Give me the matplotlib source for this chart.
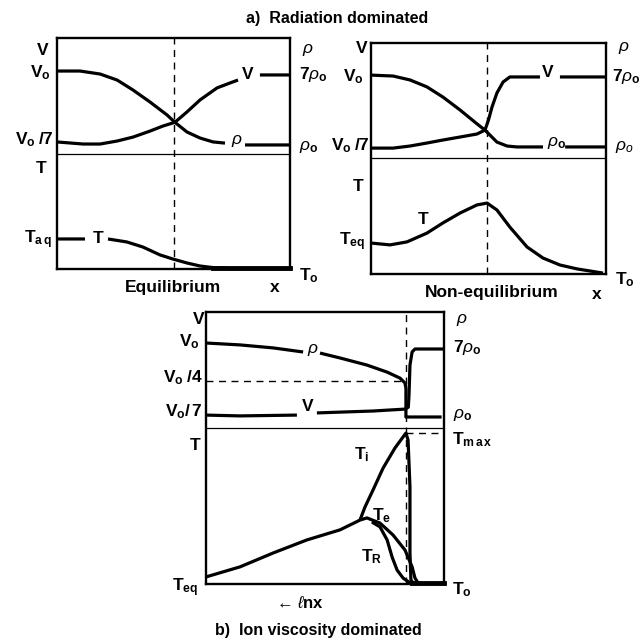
import numpy as np
import matplotlib
matplotlib.use("Agg")
import matplotlib.pyplot as plt

plt.rcParams['font.family'] = ['Liberation Sans', 'DejaVu Sans']
plt.rcParams['font.weight'] = 'bold'
plt.rcParams['mathtext.fontset'] = 'custom'
plt.rcParams['mathtext.rm'] = 'Liberation Sans:bold'
plt.rcParams['mathtext.bf'] = 'Liberation Sans:bold'
plt.rcParams['mathtext.it'] = 'Liberation Sans:style=italic:weight=normal'

nan = np.nan

# ---- Panel a-left: equilibrium (x and y in percent of the panel) ----
eq_fall_x = [0, 9.9, 18.5, 25.8, 32.6, 39.9, 47.2, 50.6, 55.8, 61.4, 67.0, 72.1, nan, 80.7, 100]
eq_fall_y = [85.7, 85.7, 84.4, 81.8, 77.5, 72.3, 66.7, 63.5, 59.3, 56.7, 55.0, 54.5, nan, 53.7, 53.7]
eq_rise_x = [0, 11.2, 18.5, 25.8, 32.6, 39.9, 45.5, 50.6, 55.8, 61.4, 68.7, 75.5, 77.7, nan, 87.1, 100]
eq_rise_y = [55.0, 54.1, 54.1, 55.4, 57.1, 59.7, 61.9, 63.5, 68.0, 73.2, 78.4, 81.0, 81.8, nan, 84.0, 84.0]
eq_t_x = [0, 12.0, nan, 21.9, 30.0, 36.9, 44.2, 49.8, 55.8, 61.4, 67.0, 73.0]
eq_t_y = [13.0, 13.0, nan, 13.0, 11.7, 9.5, 6.1, 4.3, 2.6, 1.3, 0.6, 0.4]
eq_t_floor_x = [67.0, 100]
eq_t_floor_y = [0.4, 0.4]
eq_shock_x = 50.2
eq_split_y = 49.8

# ---- Panel a-right: non-equilibrium ----
ne_fall_x = [0, 9.4, 16.6, 23.8, 30.6, 37.9, 45.1, 48.5, 53.6, 57.9, 62.1, 73.2, nan, 82.6, 100]
ne_fall_y = [86.1, 85.7, 84.0, 81.0, 76.6, 71.0, 65.0, 62.3, 57.1, 55.4, 55.0, 55.0, nan, 55.0, 55.0]
ne_rise_x = [0, 9.4, 16.6, 23.8, 30.6, 37.9, 45.1, 48.5, 50.0, 51.5, 53.6, 56.2, 59.1, 71.9, nan, 80.4, 100]
ne_rise_y = [54.5, 54.5, 55.4, 56.7, 58.0, 59.3, 60.6, 62.3, 66.7, 72.3, 78.4, 83.1, 85.3, 85.3, nan, 85.3, 85.3]
ne_t_x = [0, 8.1, 15.3, 23.8, 30.6, 37.9, 45.1, 49.4, 53.6, 59.1, 66.4, 73.2, 80.4, 87.7, 98.7]
ne_t_y = [13.4, 12.6, 13.9, 17.7, 22.1, 26.4, 29.9, 30.7, 27.7, 20.3, 11.7, 6.9, 3.9, 2.2, 0.4]
ne_shock_x = 49.4
ne_split_y = 50.2

# ---- Panel b: ion viscosity dominated ----
iv_rho_x = [0, 14.3, 28.2, 40.8, nan, 47.9, 56.3, 67.6, 76.1, 81.5, 83.6, 84.0, 84.0, 99.0]
iv_rho_y = [88.6, 87.9, 86.8, 85.3, nan, 84.9, 83.1, 80.5, 77.9, 75.7, 73.9, 72.0, 61.4, 61.4]
iv_v_x = [0, 14.3, 38.2, nan, 46.6, 70.2, 83.6, 85.0, 85.3, 85.7, 86.6, 87.8, 100]
iv_v_y = [62.1, 61.8, 62.1, nan, 62.9, 63.6, 64.3, 65.0, 69.5, 80.5, 85.3, 86.4, 86.4]
iv_base_x = [0, 14.3, 28.2, 42.4, 56.3, 64.7]
iv_base_y = [2.6, 6.3, 11.4, 16.2, 19.9, 23.5]
iv_ti_x = [64.7, 66.8, 70.2, 74.4, 79.4, 84.0, 84.9, 85.7, 85.7, 86.1, 87.0]
iv_ti_y = [23.5, 28.3, 34.6, 42.6, 50.0, 55.5, 52.9, 35.7, 11.4, 1.5, 0.4]
iv_te_x = [64.7, 67.6, 73.1, 78.6, 83.6, 86.6, 87.8, 89.1]
iv_te_y = [23.5, 24.3, 22.4, 18.0, 12.5, 6.3, 2.2, 0.4]
iv_tr_x = [69.7, 73.1, 76.1, 78.2, 80.3, 82.8, 85.7]
iv_tr_y = [22.8, 21.0, 16.2, 9.9, 5.1, 2.2, 0.4]
iv_floor_x = [86.6, 100]
iv_floor_y = [0.4, 0.4]
iv_shock_x = 84.0
iv_quarter_y = 74.6
iv_tmax_y = 55.5
iv_split_y = 57.4

FIG_PX = 644
fig = plt.figure(figsize=(6.44, 6.44), dpi=100)
fig.patch.set_facecolor('white')


def make_panel(left, top, width, height):
    ax = fig.add_axes([left / FIG_PX, 1 - (top + height) / FIG_PX,
                       width / FIG_PX, height / FIG_PX])
    ax.set_xlim(0, 100)
    ax.set_ylim(0, 100)
    ax.set_xticks([])
    ax.set_yticks([])
    for s in ax.spines.values():
        s.set_linewidth(1.7)
    return ax


CURVE = dict(color='black', lw=2.3, solid_capstyle='butt', clip_on=False)
DASH = dict(color='black', lw=1.0, ls=(0, (5, 4)))
FS = 12.5


def label(ax, x, y, s, ha='center', size=FS):
    ax.text(x, y, s, ha=ha, va='center', fontsize=size, fontweight='bold',
            clip_on=False)


def right_label(ax, dx, y, s, size=FS):
    label(ax, 100 + dx, y, s, ha='left', size=size)


# Equilibrium panel
ax = make_panel(57, 38, 233, 231)
ax.plot(eq_fall_x, eq_fall_y, **CURVE)
ax.plot(eq_rise_x, eq_rise_y, **CURVE)
ax.plot(eq_t_x, eq_t_y, **CURVE)
ax.plot(eq_t_floor_x, eq_t_floor_y, color='black', lw=3.5, clip_on=False)
ax.axhline(eq_split_y, color='black', lw=0.9)
ax.axvline(eq_shock_x, **DASH)
label(ax, -3.5, 94.8, 'V', ha='right')
label(ax, -2.5, 84.8, r'$\mathrm{V_o}$', ha='right')
label(ax, -1.5, 55.8, r'$\mathrm{V_o\;/7}$', ha='right')
label(ax, -4.3, 43.7, 'T', ha='right')
label(ax, -2.0, 12.6, r'$\mathrm{T_{a\,q}}$', ha='right')
right_label(ax, 5.0, 94.8, r'$\rho$')
right_label(ax, 4.0, 84.0, r'$\mathrm{7}\rho_\mathrm{o}$')
right_label(ax, 4.0, 52.8, r'$\rho_\mathrm{o}$')
right_label(ax, 4.0, -3.0, r'$\mathrm{T_o}$')
label(ax, 82.0, 84.4, 'V')
label(ax, 77.3, 55.5, r'$\rho$')
label(ax, 17.6, 13.4, 'T')
label(ax, 49.8, -8.2, 'Equilibrium')
label(ax, 93.6, -8.2, 'x')

# Non-equilibrium panel
ax = make_panel(371, 43, 235, 231)
ax.plot(ne_fall_x, ne_fall_y, **CURVE)
ax.plot(ne_rise_x, ne_rise_y, **CURVE)
ax.plot(ne_t_x, ne_t_y, **CURVE)
ax.axhline(ne_split_y, color='black', lw=0.9)
ax.axvline(ne_shock_x, **DASH)
label(ax, -1.5, 97.8, 'V', ha='right')
label(ax, -3.0, 85.3, r'$\mathrm{V_o}$', ha='right')
label(ax, -1.0, 55.4, r'$\mathrm{V_o\;/7}$', ha='right')
label(ax, -3.4, 37.7, 'T', ha='right')
label(ax, -2.5, 13.9, r'$\mathrm{T_{eq}}$', ha='right')
right_label(ax, 5.1, 97.8, r'$\rho$')
right_label(ax, 2.6, 85.3, r'$\mathrm{7}\rho_\mathrm{o}$')
right_label(ax, 3.8, 55.0, r'$\rho_o$')
right_label(ax, 3.8, -2.6, r'$\mathrm{T_o}$')
label(ax, 75.3, 87.4, 'V')
label(ax, 79.1, 56.5, r'$\rho_\mathrm{o}$')
label(ax, 22.1, 23.5, 'T')
label(ax, 51.5, -7.8, 'Non-equilibrium')
label(ax, 96.0, -8.7, 'x')

# Ion viscosity panel
ax = make_panel(206, 312, 238, 272)
ax.plot(iv_rho_x, iv_rho_y, **CURVE)
ax.plot(iv_v_x, iv_v_y, **CURVE)
ax.plot(iv_base_x, iv_base_y, **CURVE)
ax.plot(iv_ti_x, iv_ti_y, **CURVE)
ax.plot(iv_te_x, iv_te_y, **CURVE)
ax.plot(iv_tr_x, iv_tr_y, **CURVE)
ax.plot(iv_floor_x, iv_floor_y, color='black', lw=3.5, clip_on=False)
ax.axhline(iv_split_y, color='black', lw=0.9)
ax.axvline(iv_shock_x, **DASH)
ax.plot([0, iv_shock_x], [iv_quarter_y, iv_quarter_y], **DASH)
ax.plot([iv_shock_x, 100], [iv_tmax_y, iv_tmax_y], **DASH)
label(ax, -0.8, 97.1, 'V', ha='right')
label(ax, -2.5, 89.0, r'$\mathrm{V_o}$', ha='right')
label(ax, -1.3, 75.7, r'$\mathrm{V_o\;/4}$', ha='right')
label(ax, -1.3, 63.2, r'$\mathrm{V_o/\,7}$', ha='right')
label(ax, -2.5, 51.1, 'T', ha='right')
label(ax, -3.4, -1.5, r'$\mathrm{T_{eq}}$', ha='right')
right_label(ax, 5.0, 97.1, r'$\rho$')
right_label(ax, 3.8, 87.1, r'$\mathrm{7}\rho_\mathrm{o}$')
right_label(ax, 3.8, 62.1, r'$\rho_\mathrm{o}$')
right_label(ax, 3.4, 52.9, r'$\mathrm{T_{m\,a\,x}}$')
right_label(ax, 3.4, -2.2, r'$\mathrm{T_o}$')
label(ax, 45.0, 86.0, r'$\rho$')
label(ax, 42.9, 65.4, 'V')
label(ax, 65.5, 47.4, r'$\mathrm{T_i}$')
label(ax, 73.9, 25.3, r'$\mathrm{T_e}$')
label(ax, 69.7, 9.9, r'$\mathrm{T_R}$')
label(ax, 39.5, -7.0, r'← $\ell$nx', size=12)

fig.text(337 / FIG_PX, 1 - 18 / FIG_PX, 'a)  Radiation dominated',
         ha='center', va='center', fontsize=11.5, fontweight='bold')
fig.text(318 / FIG_PX, 1 - 630 / FIG_PX, 'b)  Ion viscosity dominated',
         ha='center', va='center', fontsize=11.5, fontweight='bold')

fig.savefig('out.png', dpi=100, facecolor='white')
